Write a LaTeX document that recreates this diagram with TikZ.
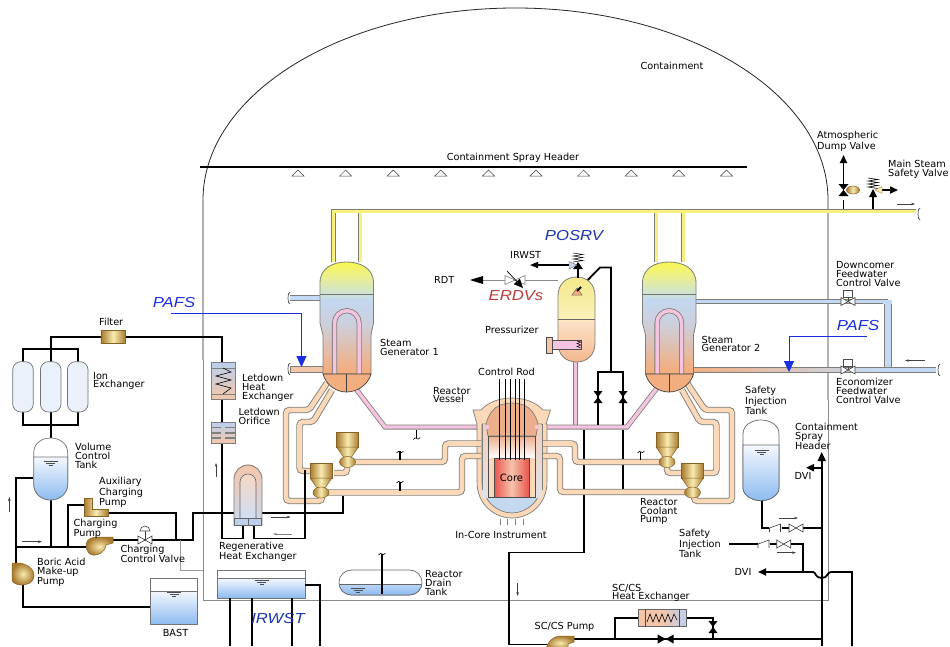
\documentclass[tikz,border=0pt]{standalone}
\usepackage{fontspec}
\setmainfont{DejaVu Sans}
\newfontfamily\bluefont{Liberation Sans}
\usetikzlibrary{arrows.meta}
\definecolor{wallgray}{HTML}{8A8A8A}
\definecolor{pipeout}{HTML}{7E7E78}
\definecolor{peach}{HTML}{FAD8B8}
\definecolor{pinkp}{HTML}{F5C4E0}
\definecolor{yellowp}{HTML}{F7F07E}
\definecolor{feedb}{HTML}{C4DAF4}
\definecolor{watert}{HTML}{F4F8FE}
\definecolor{waterb}{HTML}{8DBBF0}
\definecolor{sgA}{HTML}{F3AE80}
\definecolor{sgB}{HTML}{CDCFDC}
\definecolor{sgC}{HTML}{C3D8F0}
\definecolor{sgD}{HTML}{CCE2D8}
\definecolor{sgE}{HTML}{ECF08A}
\definecolor{sgF}{HTML}{F8F650}
\definecolor{goldD}{HTML}{A87A2E}
\definecolor{goldL}{HTML}{F8EBB0}
\definecolor{pzA}{HTML}{F3B88E}
\definecolor{pzB}{HTML}{FCE2C6}
\definecolor{pzC}{HTML}{FBF0B8}
\definecolor{pzD}{HTML}{F5E98C}
\definecolor{coreR}{HTML}{E9524E}
\definecolor{coreL}{HTML}{F6C4AE}
\definecolor{domeO}{HTML}{EDAE8C}
\definecolor{bowlB}{HTML}{C4D8F0}
\definecolor{hxB}{HTML}{BCD0EE}
\definecolor{hxP}{HTML}{F3C6AA}
\definecolor{textblue}{HTML}{1A2FE0}
\definecolor{darkblue}{HTML}{1A35B0}
\definecolor{errd}{HTML}{C03A3A}
\pgfdeclareverticalshading{sgshade}{100bp}{color(0bp)=(sgA);color(27bp)=(sgA);color(47bp)=(sgB);color(58bp)=(sgC);color(60.5bp)=(sgD);color(69bp)=(sgE);color(75bp)=(sgF);color(100bp)=(sgF)}
\pgfdeclareverticalshading{pzshade}{100bp}{color(0bp)=(pzA);color(25bp)=(pzA);color(49bp)=(pzB);color(50bp)=(pzC);color(75bp)=(pzD);color(100bp)=(pzD)}
\pgfdeclarehorizontalshading{goldh}{100bp}{color(0bp)=(goldD);color(25bp)=(goldD);color(50bp)=(goldL);color(75bp)=(goldD);color(100bp)=(goldD)}
\pgfdeclarehorizontalshading{coreh}{100bp}{color(0bp)=(coreR);color(25bp)=(coreR);color(50bp)=(coreL);color(75bp)=(coreR);color(100bp)=(coreR)}
\pgfdeclarehorizontalshading{hxh}{100bp}{color(0bp)=(hxP);color(25bp)=(hxP);color(50bp)=(hxP);color(75bp)=(hxB);color(100bp)=(hxB)}
\tikzset{
  x=1pt,y=-1pt,
  wall/.style={draw=wallgray,line width=.9},
  thinblack/.style={draw=black!85,line width=.8},
  blk/.style={draw=black,line width=1.8,line join=miter},
  peachpipe/.style={draw=pipeout,double=peach,line width=.9,double distance=4.6,rounded corners=3.5},
  pinkpipe/.style={draw=pipeout,double=pinkp,line width=.8,double distance=3.4,line join=miter},
  yellowpipe/.style={draw=pipeout,double=yellowp,line width=.9,double distance=3,line join=miter},
  feedpipe/.style={draw=pipeout,double=feedb,line width=.8,double distance=3.8,line join=miter},
  vesselline/.style={draw=pipeout,line width=.7},
  lab/.style={font=\fontsize{9.7}{8.7}\selectfont,align=left,anchor=west,inner sep=0pt,text=black},
  blueital/.style={font=\bluefont\fontsize{14.5}{15}\selectfont\itshape,text=#1,inner sep=0pt,xscale=1.15,transform shape},
  smallarrow/.style={draw=black!75,line width=.6,-{Stealth[length=4pt,width=2.6pt]}},
  headarrow/.style={draw=black,line width=1.8,-{Triangle[length=8pt,width=7pt]}},
  bluearrow/.style={draw=textblue,line width=1,-{Triangle[length=11pt,width=10pt]}},
  gold/.style={draw=goldD!80!black,line width=.5,shading=goldh},
  goldpump/.style={draw=goldD!80!black,line width=.5,inner color=goldL,outer color=goldD},
  valvew/.style={draw=black!75,fill=white,line width=.6},
}
\newcommand{\hvalve}[2]{\draw[valvew] (#1-7,#2-4)--(#1+7,#2+4)--(#1+7,#2-4)--(#1-7,#2+4)--cycle;}
\newcommand{\vblack}[2]{\fill[black] (#1-4.5,#2-6)--(#1+4.5,#2-6)--(#1-4.5,#2+6)--(#1+4.5,#2+6)--cycle;}
\newcommand{\hblack}[2]{\fill[black] (#1-8,#2-4.5)--(#1-8,#2+4.5)--(#1+8,#2-4.5)--(#1+8,#2+4.5)--cycle;}
\newcommand{\cvalve}[2]{\draw[black!75,line width=.6] (#1-6,#2+4)--(#1-6,#2-0)--(#1+5,#2-4)--(#1+5,#2+4);}
\newcommand{\lvlmark}[2]{\draw[black!70,line width=.6] (#1-7,#2)--(#1+7,#2) (#1-4.5,#2+2)--(#1+4.5,#2+2) (#1-2,#2+4)--(#1+2,#2+4);}
\newcommand{\curlup}[2]{\draw[black,line width=.6] (#1-3.5,#2+1) .. controls (#1-2,#2-1) and (#1-1,#2-1) .. (#1,#2) .. controls (#1+1,#2+1) and (#1+2,#2+1) .. (#1+3.5,#2-1);}
\newcommand{\pipeend}[2]{\draw[black!70,line width=.7] (#1+2,#2-6) .. controls (#1-1,#2-4) and (#1+1,#2-1) .. (#1,#2) .. controls (#1+1,#2+1) and (#1-1,#2+4) .. (#1+2,#2+6);}
\newcommand{\rcpump}[4]{%
  \node[inner sep=0pt,minimum size=0pt] (#1) at (#2,#4) {};
  \draw[gold] (#2-11,#3)--(#2+11,#3)--(#2+11,#3+15)--(#2-11,#3+15)--cycle;
  \draw[gold] (#2-11,#3+15)--(#2+11,#3+15)--(#2+4,#3+25)--(#2-4,#3+25)--cycle;
  \draw[gold] (#2,#4) ellipse [x radius=8,y radius=5.5];
}
\begin{document}
\begin{tikzpicture}
\useasboundingbox (0,0) rectangle (950,646);
\clip (0,0) rectangle (950,646);
\fill[white] (0,0) rectangle (950,646);

% containment
\draw[thinblack] (203,360)--(203,200) arc [start angle=180,end angle=360,x radius=312.5,y radius=192] --(828,400);
\draw[wall] (203,360)--(203,600)--(828,600)--(828,400);

% spray header
\draw[draw=black,line width=1.4] (200,167)--(747,167);
\foreach \hx in {298,345.6,393.2,440.8,488.4,536,583.6,631.2,678.8,726.4}
  \draw[black!75,fill=white,line width=.5] (\hx,170)--(\hx+6,176)--(\hx-6,176)--cycle;

% main steam
\draw[yellowpipe] (360,262)--(360,211);
\draw[yellowpipe] (656,262)--(656,211);
\draw[yellowpipe] (683,262)--(683,211);
\draw[yellowpipe] (333.5,262)--(333.5,211)--(916,211);
\pipeend{918}{214}
\draw[blk] (843.5,209)--(843.5,200);
\draw[headarrow] (843.5,195)--(843.5,155);
\draw[blk] (873,209)--(873,195);
\fill (873,189)--(877,197)--(869,197)--cycle;
\draw[black,line width=.6] (868,178)--(878,179.5)--(868,181)--(878,182.5)--(868,184)--(878,185.5)--(868,187)--(878,188.5);
\draw[headarrow] (880,190)--(898,190);
\fill[goldL,draw=goldD,line width=.4] (875,190)--(882,186.5)--(882,193.5)--cycle;
\fill (838.5,184)--(848.5,184)--(838.5,196)--(848.5,196)--cycle;
\draw[gold] (853,190) ellipse [x radius=6.5,y radius=4];

% feedwater lines, right
\draw[feedpipe] (694,301.5)--(888,301.5);
\draw[draw=pipeout,double=feedb,line width=.8,double distance=6] (888,300)--(888,370);
\fill[feedb] (883,303.5)--(891.5,303.5)--(891.5,299.5)--(883,299.5)--cycle;
\draw[pipeout,line width=.8,left color=sgA,right color=feedb] (690,367.5) rectangle (880,372.5);
\draw[feedpipe] (880,370)--(936,370);
\fill[feedb] (880,368)--(891.5,368)--(891.5,372)--(880,372)--cycle;
\pipeend{938}{370}
\hvalve{848}{301.5}
\hvalve{848}{370}
\draw[black!70,line width=.6,fill=white] (843.5,290) rectangle (852.5,297);
\draw[black!70,line width=.6] (848,297)--(848,301.5);
\draw[black!70,line width=.6,fill=white] (843.5,359) rectangle (852.5,366);
\draw[black!70,line width=.6] (848,366)--(848,370);
\draw[smallarrow] (925,360.5)--(905,360.5);

% feed stubs, left
\draw[feedpipe] (290,298)--(322,298);
\pipeend{288}{298}
\draw[pipeout,line width=.7,fill=hxP] (290,366.5) rectangle (325,372);
\pipeend{288}{369}

% pink hot legs
\draw[pinkpipe] (575.5,360)--(575.5,427);
\draw[pinkpipe] (356,389)--(385,427)--(488,427);
\draw[pinkpipe] (536,427)--(627,427)--(657,388);

% control piping
\draw[blk] (577,291)--(600,267.5)--(611,267.5)--(611,372);
\draw[blk] (598,424.5)--(598,372)--(623,372)--(623,424.5);
\draw[blk] (623,430)--(623,490);
\vblack{598}{397}
\vblack{623}{397}
\draw[blk] (584,430)--(584,552.5)--(509,552.5)--(509,644.5)--(548,644.5);

% reactor vessel
\draw[vesselline,fill=peach] (473,410)--(481,410) .. controls (488,402) and (500,398) .. (512,398) .. controls (524,398) and (536,402) .. (543,410)--(550.5,410)--(546,424)--(547,424)--(547,482) .. controls (547,505) and (529,518) .. (512,518) .. controls (495,518) and (477,505) .. (477,482)--(477,424)--cycle;
\draw[vesselline,fill=bowlB] (482,424)--(482,482) .. controls (482,500) and (497,513) .. (512,513) .. controls (527,513) and (542,500) .. (542,482)--(542,424)--cycle;
\fill[top color=domeO!60!white,bottom color=sgB!60!white] (482.4,424) rectangle (541.6,497);
\draw[vesselline] (482,424)--(482,490) (542,424)--(542,490);
\draw[vesselline,fill=domeO] (488,436)--(486,424) .. controls (490,408) and (500,403) .. (512,403) .. controls (524,403) and (534,408) .. (538,424)--(536,436)--cycle;
\fill[top color=domeO,bottom color=white] (488,436) rectangle (536,458);
\draw[black!60,line width=.5] (488,436)--(536,436);
\fill[peach] (488,458) rectangle (494,497);
\fill[peach] (529,458) rectangle (535.5,497);
\draw[black!70,line width=.6] (488,436)--(488,497)--(535.5,497)--(535.5,436);
\draw[draw=black!70,line width=.6,shading=coreh] (494,458) rectangle (529,497);
\foreach \rx in {499.3,505,510,515,519.3,524.3}
  \draw[black,line width=.5] (\rx,379)--(\rx,460);
\foreach \ix in {500,507.7,515.3,523}
  \draw[black!50,line width=.7] (\ix,518.5)--(\ix,525);
\node[font=\fontsize{10}{10}\selectfont,inner sep=0pt] (core) at (511.5,478) {Core};
\fill[pinkp] (486,425) rectangle (489,429);
\fill[pinkp] (535,425) rectangle (538,429);

% coolant legs
\draw[peachpipe] (355,462)--(445,462)--(445,443.5)--(481,443.5);
\draw[peachpipe] (328,492.5)--(462,492.5)--(462,456)--(481,456);
\draw[peachpipe] (543,443.5)--(575,443.5)--(575,462)--(660,462);
\draw[peachpipe] (543,456)--(560,456)--(560,492)--(686,492);
\draw[peachpipe] (327,383)--(309,410)--(286,410)--(286,501)--(322,501)--(322,496);
\draw[peachpipe] (332,390)--(313,422)--(299.5,422)--(299.5,471)--(312,471);
\draw[peachpipe] (347,466)--(347,473)--(334,473);
\draw[peachpipe] (687,383)--(705,410)--(732,410)--(732,501)--(694,501)--(694,496);
\draw[peachpipe] (682,390)--(700,422)--(716.5,422)--(716.5,473)--(702,473);
\draw[peachpipe] (667,466)--(667,473)--(684,473);

% pipe stems with curls
\draw[black,line width=1.1] (416.7,430)--(416.7,438); \curlup{416.7}{438.5}
\draw[black,line width=1.1] (400,451)--(400,460); \curlup{400}{452}
\draw[black,line width=1.1] (400,482)--(400,491); \curlup{400}{482}
\draw[black,line width=1.1] (640.5,452)--(640.5,460); \curlup{641}{452}

% pumps
\rcpump{rcpa}{347.5}{432}{462}
\rcpump{rcpb}{321}{463}{492.5}
\rcpump{rcpc}{667}{432}{462}
\rcpump{rcpd}{692.5}{463}{492.5}

% steam generators
\foreach \sgx in {0,322.5}{
\begin{scope}[shift={(\sgx,0)}]
\draw[draw=pipeout,line width=.8,shading=sgshade,shading angle=0] (320,323)--(320,283) .. controls (320,268) and (333,262) .. (346.5,262) .. controls (360,262) and (373.5,268) .. (373.5,283)--(373.5,323)--(371,335)--(371,374)--(323,374)--(323,335)--cycle;
\draw[black!55,line width=.6] (320,294.5)--(373.5,294.5);
\draw[draw=pipeout,line width=.8,double=pinkp,double distance=3.5] (334.5,374)--(334.5,323) arc [start angle=180,end angle=360,radius=12.3] --(359.1,374);
\draw[black!75,line width=.7,fill=sgA] (323,374) .. controls (326,385) and (336,392) .. (346.5,392) .. controls (357,392) and (368,385) .. (371,374)--cycle;
\draw[black!75,line width=.7] (346.5,374)--(346.5,392);
\end{scope}}

% pressurizer
\draw[draw=pipeout,line width=.8,shading=pzshade,shading angle=0] (558,296) .. controls (558,284) and (566,277) .. (576.5,277) .. controls (587,277) and (595,284) .. (595,296)--(595,343) .. controls (595,355) and (587,362) .. (576.5,362) .. controls (566,362) and (558,355) .. (558,343)--cycle;
\draw[black!60,line width=.6] (558,319)--(595,319);
\draw[draw=black!70,line width=.5,fill=hxP] (546,337) rectangle (552,353);
\draw[black!70,line width=.5,fill=pinkp] (552,340) rectangle (581,349);
\draw[black,line width=.5] (577,341)--(581,342)--(577,343.5)--(581,345)--(577,346.5)--(581,348);
\fill[sgA,draw=black!60,line width=.5] (577,288)--(582,295)--(572,295)--cycle;
\draw[draw=black,line width=1.8] (577,291)--(581,287);

% RDT / IRWST relief
\draw[draw=black!45,line width=.9] (483,280)--(558,280);
\fill (470,280)--(483,276)--(483,284)--cycle;
\draw[valvew,draw=black!50] (505,275.5)--(525,284.5)--(525,275.5)--(505,284.5)--cycle;
\draw[black,line width=.7,-{Triangle[length=9pt,width=8pt]}] (507,271)--(523,288);
\draw[black,line width=1.4,-{Triangle[length=8pt,width=6pt]}] (574,265)--(530,265);
\draw[blk] (578,278)--(578,268);
\fill (578,262)--(583,269)--(573,269)--cycle;
\fill[bowlB,draw=black!60,line width=.4] (569,261.5)--(577,265)--(569,269)--cycle;
\draw[black,line width=.5] (573,253)--(583,254.5)--(573,256)--(583,257.5)--(573,259)--(583,260.5)--(573,262);

% chemical and volume control piping
\draw[blk] (101,336.7)--(50.7,336.7)--(50.7,438);
\draw[blk] (125.7,336.7)--(222,336.7)--(222,538.5)--(243,538.5)--(243,525);
\draw[blk] (23,362)--(23,349.3)--(77.7,349.3)--(77.7,362);
\draw[blk] (23,412)--(23,425)--(77.7,425)--(77.7,412);
\draw[blk] (254,525)--(254,538.5)--(305,538.5)--(305,470);
\draw[blk] (262,513)--(343.3,513)--(343.3,496);
\draw[blk] (234,513)--(193,513)--(193,540)--(113,540);
\draw[blk] (176,540)--(176,513)--(108,513);
\draw[blk] (84,505)--(67.7,505)--(67.7,546.7);
\draw[blk] (33.7,478)--(16,478)--(16,565);
\draw[blk] (16,546.7)--(86,546.7);
\draw[blk] (50.7,500)--(50.7,546.7);
\draw[blk] (23,585)--(23,607)--(150.7,607);
\draw[draw=black!40,line width=.7] (180,540)--(180,570)--(203,570);

% ion exchangers
\foreach \ex in {23,50.7,77.7}
  \draw[draw=black!55,line width=.7,fill=bowlB!35!white,rounded corners=8] (\ex-10.3,361.7) rectangle (\ex+10.3,412);
\node[draw=goldD!80!black,line width=.5,shading=goldh,minimum width=24.7pt,minimum height=13pt,inner sep=0pt] (filter) at (113.3,336.5) {};
% letdown HX
\draw[draw=black!50,line width=.7,top color=hxB,bottom color=hxP] (211,362.7) rectangle (235.7,399);
\draw[black!50,line width=.6] (211,368)--(235.7,368) (211,394)--(235.7,394);
\draw[black,line width=.6] (223,368)--(231,372)--(216,376)--(231,380)--(216,384)--(231,388)--(223,394);
% orifice
\draw[draw=black!50,line width=.7,top color=hxB,bottom color=hxP] (211,422.7) rectangle (235.7,443);
\foreach \oy in {427.5,432.8,438}
  \draw[black!50,line width=1.4] (211,\oy)--(221,\oy) (225,\oy)--(235.7,\oy);
% regen HX
\draw[draw=pipeout,line width=.9,top color=hxP,bottom color=hxB!80!white] (234,525)--(234,479) arc [start angle=180,end angle=360,radius=14] --(262,525)--cycle;
\draw[draw=black!60,line width=.6,top color=hxP!70!white,bottom color=hxB!70!white] (240,518)--(240,482) arc [start angle=180,end angle=360,radius=8] --(256,518);
\draw[draw=black!60,line width=.6,fill=hxB] (234.5,518) rectangle (261.5,525);
\draw[black!60,line width=.6] (248,518)--(248,525);

% VCT
\draw[draw=black!55,line width=.7,fill=white] (33.7,484) --(33.7,453) .. controls (33.7,443) and (42,438) .. (50.7,438) .. controls (59,438) and (67.7,443) .. (67.7,453)--(67.7,484) .. controls (67.7,494) and (59,500) .. (50.7,500) .. controls (42,500) and (33.7,494) .. (33.7,484)--cycle;
\draw[draw=black!55,line width=.7,top color=watert,bottom color=waterb] (33.7,457)--(67.7,457)--(67.7,484) .. controls (67.7,494) and (59,500) .. (50.7,500) .. controls (42,500) and (33.7,494) .. (33.7,484)--cycle;
\lvlmark{50.7}{461}
% pumps, CVCS
\draw[gold] (84,498)--(92,498)--(92,509)--(108,509)--(108,516)--(84,516)--cycle;
\draw[goldpump] (113,537)--(113,543)--(106,545) .. controls (105,553) and (97,556) .. (93,555) .. controls (86,554) and (86,546) .. (86,544) .. controls (87,538) and (94,537) .. (98,537)--cycle;
\hvalve{145}{540}
\draw[black!75,line width=.6] (145,540)--(145,531);
\draw[black!75,line width=.6] (140,531) arc [start angle=180,end angle=360,radius=5] --cycle;
\draw[goldpump] (12,563)--(18,563) .. controls (25,563) and (34,568) .. (34,575) .. controls (34,583) and (27,585) .. (21,585) .. controls (16,585) and (12,582) .. (12,580)--cycle;
% BAST
\draw[draw=black!55,line width=.7,fill=white] (150.7,578) rectangle (197,624);
\draw[draw=black!55,line width=.7,top color=watert,bottom color=waterb] (150.7,591) rectangle (197,624);
\lvlmark{174}{592}
% IRWST tank
\draw[draw=black!55,line width=.7,fill=white] (217,570.7) rectangle (305,598);
\draw[draw=black!55,line width=.7,top color=watert,bottom color=waterb] (217,578) rectangle (305,598);
\lvlmark{261.5}{580}
\draw[blk] (230,598)--(230,646);
\draw[blk] (251.7,598)--(251.7,646);
\draw[blk] (291.7,598)--(291.7,646);
\draw[blk] (305,585)--(320,585)--(320,646);
% Drain tank
\draw[draw=black!60,line width=.7,fill=white,rounded corners=12.4] (339,570) rectangle (422,595);
\begin{scope}
\clip (335,584) rectangle (425,600);
\draw[draw=black!60,line width=.7,top color=watert,bottom color=waterb,rounded corners=12.4] (339,570) rectangle (422,595);
\end{scope}
\draw[black!60,line width=.7] (340,584)--(421,584);
\lvlmark{358}{588}
\draw[black,line width=1.1] (382,554)--(382,594); \curlup{382}{554}

% small flow arrows
\draw[smallarrow] (9.3,512)--(9.3,497);
\draw[smallarrow] (22,541.7)--(42,541.7);
\draw[smallarrow] (216,477)--(216,463);
\draw[smallarrow] (271,517)--(290.7,517);
\draw[draw=black!50,line width=.6,-{Stealth[length=4pt,width=2.6pt]}] (292,534)--(273,534);
\draw[smallarrow] (517.7,583)--(517.7,596);
\draw[smallarrow] (897,204)--(915,204);
\draw[smallarrow] (779,518)--(798,518);
\draw[smallarrow] (777,552.7)--(796,552.7);

% safety injection tank
\draw[draw=black!60,line width=.7,fill=white] (743,488)--(743,434) .. controls (743,425) and (752,420) .. (761,420) .. controls (770,420) and (779,425) .. (779,434)--(779,488) .. controls (779,495) and (770,500.7) .. (761,500.7) .. controls (752,500.7) and (743,495) .. (743,488)--cycle;
\draw[draw=black!60,line width=.7,top color=watert,bottom color=waterb] (743,445)--(779,445)--(779,488) .. controls (779,495) and (770,500.7) .. (761,500.7) .. controls (752,500.7) and (743,495) .. (743,488)--cycle;
\lvlmark{761.5}{450}
\draw[blk] (762,500.7)--(762,528)--(769,528);
\draw[blk] (803,528)--(821.7,528);
\draw[blk] (782,528)--(789,528);
\cvalve{775.5}{528}
\hvalve{796}{528}
\draw[blk] (729,544)--(758,544);
\draw[blk] (770,544)--(777,544);
\cvalve{764}{544}
\hvalve{783.7}{544}
\draw[blk] (790.5,544)--(802.7,544)--(802.7,572);
% DVI lines
\draw[headarrow] (814,572)--(758,572);
\draw[blk] (813,572) .. controls (816,572) and (815,578) .. (821.7,578) .. controls (828,578) and (827,572) .. (831,572)--(852,572)--(852,646);
\draw[blk] (821.7,646)--(821.7,468);
\draw[draw=black,line width=1.8,-{Triangle[length=9pt,width=8pt]}] (821.7,470)--(821.7,452);
\draw[headarrow] (821.7,467.7)--(806,467.7);
% SC/CS
\draw[blk] (574,639)--(821.7,639);
\draw[blk] (638,617.7)--(615,617.7)--(615,639);
\draw[blk] (686,617.7)--(713,617.7)--(713,639);
\vblack{713}{627}
\hblack{665.7}{639}
\draw[black!60,line width=.6,shading=hxh] (638,609) rectangle (686,626.7);
\draw[black!70,line width=.6] (645,609)--(645,626.7) (679,609)--(679,626.7);
\draw[black,line width=.6] (647,622)--(650,614)--(653,622)--(656,614)--(659,622)--(662,614)--(665,622)--(668,614)--(671,622)--(674,614)--(677,620);
\draw[goldpump] (574,636)--(574,642)--(568,644)--(568,650)--(546,650) .. controls (547,642) and (553,636) .. (560,636)--cycle;

% blue PAFS
\draw[bluearrow] (171,313)--(301.5,313)--(301.5,367);
\draw[bluearrow] (867,336)--(789,336)--(789,372);

\node[blueital=textblue] (pafsa) at (174,303) {PAFS};
\node[blueital=textblue] (pafsb) at (858,326) {PAFS};
\node[blueital=darkblue] (posrv) at (574,236) {POSRV};
\node[blueital=errd] (erdvs) at (516,296) {ERDVs};
\node[blueital=darkblue] (irwstb) at (278,618) {IRWST};

% labels
\node[lab,anchor=center] (lcont) at (672,66) {Containment};
\node[lab,anchor=center] (lcsh) at (513,158) {Containment Spray Header};
\node[lab] (ladv) at (817,141.5) {Atmospheric\\Dump Valve};
\node[lab] (lmss) at (888,169) {Main Steam\\Safety Valve};
\node[lab] (ldc) at (836,274) {Downcomer\\Feedwater\\Control Valve};
\node[lab] (lec) at (836,391) {Economizer\\Feedwater\\Control Valve};
\node[lab] (lsg1) at (380,347.5) {Steam\\Generator 1};
\node[lab] (lsg2) at (701.5,344) {Steam\\Generator 2};
\node[lab] (lirw) at (510,255) {IRWST};
\node[lab] (lrdt) at (434,280) {RDT};
\node[lab] (lprz) at (485,330) {Pressurizer};
\node[lab,anchor=center] (lcr) at (506.5,372) {Control Rod};
\node[lab] (lrv) at (433,395) {Reactor\\Vessel};
\node[lab,anchor=center] (lic) at (501,535) {In-Core Instrument};
\node[lab] (lfil) at (99,321.5) {Filter};
\node[lab] (lion) at (93,381) {Ion\\Exchanger};
\node[lab] (lvct) at (75,456) {Volume\\Control\\Tank};
\node[lab] (laux) at (99,492.5) {Auxiliary\\Charging\\Pump};
\node[lab] (lchg) at (73.5,529) {Charging\\Pump};
\node[lab] (lccv) at (120.5,554) {Charging\\Control Valve};
\node[lab] (lbor) at (37,572.5) {Boric Acid\\Make-up\\Pump};
\node[lab,anchor=center] (lbast) at (175.5,632.5) {BAST};
\node[lab] (lldh) at (242,388) {Letdown\\Heat\\Exchanger};
\node[lab] (lldo) at (238.5,416.5) {Letdown\\Orifice};
\node[lab] (lreg) at (219,552) {Regenerative\\Heat Exchanger};
\node[lab] (lrdt2) at (425,583) {Reactor\\Drain\\Tank};
\node[lab] (lrcp) at (640,511.5) {Reactor\\Coolant\\Pump};
\node[lab] (lsit) at (745,400.5) {Safety\\Injection\\Tank};
\node[lab] (lsit2) at (679,543.5) {Safety\\Injection\\Tank};
\node[lab] (lspr) at (795,436.5) {Containment\\Spray\\Header};
\node[lab,anchor=center] (ldvia) at (803,476) {DVI};
\node[lab,anchor=center] (ldvib) at (743,572) {DVI};
\node[lab] (lhx) at (612,593) {SC/CS\\Heat Exchanger};
\node[lab] (lpmp) at (534.5,627) {SC/CS Pump};
\end{tikzpicture}
\end{document}
